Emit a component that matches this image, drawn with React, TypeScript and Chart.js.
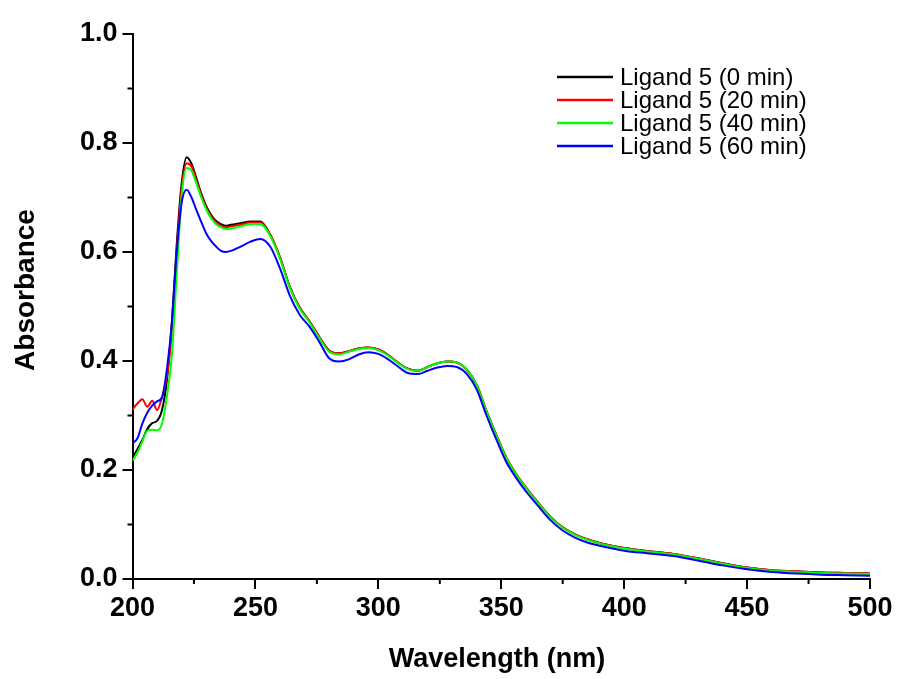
import React, { useEffect, useRef } from "react";
import { Chart, registerables } from "chart.js";

Chart.register(...registerables);

const wavelengths = [
  200, 202, 204, 206, 208, 210, 212, 214, 216, 218, 220, 222, 224, 226, 228, 230, 232, 234, 236, 238, 240,
  244, 248, 252, 256, 260, 264, 268, 272, 276, 280, 284, 288, 292, 296, 300, 304, 308, 312, 316, 320, 324,
  328, 332, 336, 340, 344, 348, 352, 356, 360,
  365, 370, 375, 380, 385, 390,
  400, 410, 420, 430, 440, 450, 460, 470, 480, 490, 500,
];

const ligand0min = [
  0.222, 0.238, 0.255, 0.275, 0.286, 0.290, 0.310, 0.365, 0.470, 0.615, 0.726, 0.774, 0.762, 0.735, 0.707, 0.684, 0.668, 0.657, 0.651, 0.648, 0.650,
  0.653, 0.656, 0.656, 0.632, 0.590, 0.536, 0.498, 0.473, 0.444, 0.419, 0.414, 0.418, 0.423, 0.425, 0.421, 0.411, 0.397, 0.386, 0.382, 0.389, 0.396,
  0.399, 0.397, 0.384, 0.356, 0.308, 0.264, 0.223, 0.193, 0.168,
  0.140, 0.114, 0.095, 0.082, 0.073, 0.066,
  0.057, 0.051, 0.046, 0.038, 0.029, 0.021, 0.016, 0.014, 0.012, 0.011, 0.010,
];

const ligand20min = [
  0.311, 0.322, 0.330, 0.316, 0.327, 0.310, 0.334, 0.372, 0.455, 0.600, 0.715, 0.763, 0.757, 0.731, 0.704, 0.681, 0.665, 0.654, 0.648, 0.645, 0.647,
  0.650, 0.654, 0.654, 0.632, 0.590, 0.536, 0.498, 0.473, 0.444, 0.419, 0.414, 0.418, 0.423, 0.425, 0.421, 0.411, 0.397, 0.386, 0.382, 0.389, 0.396,
  0.399, 0.397, 0.384, 0.356, 0.308, 0.264, 0.223, 0.193, 0.168,
  0.140, 0.114, 0.095, 0.082, 0.073, 0.066,
  0.057, 0.051, 0.046, 0.038, 0.029, 0.021, 0.016, 0.014, 0.012, 0.011, 0.010,
];

const ligand40min = [
  0.217, 0.232, 0.252, 0.272, 0.274, 0.273, 0.285, 0.335, 0.410, 0.560, 0.702, 0.754, 0.749, 0.726, 0.700, 0.678, 0.662, 0.651, 0.645, 0.642, 0.643,
  0.647, 0.651, 0.651, 0.630, 0.588, 0.534, 0.496, 0.471, 0.442, 0.417, 0.412, 0.417, 0.422, 0.424, 0.420, 0.410, 0.396, 0.385, 0.382, 0.389, 0.396,
  0.399, 0.397, 0.384, 0.355, 0.307, 0.263, 0.222, 0.192, 0.167,
  0.139, 0.113, 0.094, 0.081, 0.072, 0.065,
  0.056, 0.050, 0.045, 0.037, 0.028, 0.020, 0.015, 0.013, 0.011, 0.010, 0.009,
];

const ligand60min = [
  0.249, 0.258, 0.285, 0.305, 0.318, 0.326, 0.333, 0.385, 0.470, 0.600, 0.690, 0.714, 0.700, 0.677, 0.655, 0.634, 0.620, 0.610, 0.602, 0.600, 0.602,
  0.610, 0.619, 0.624, 0.610, 0.570, 0.520, 0.485, 0.463, 0.435, 0.405, 0.399, 0.403, 0.412, 0.416, 0.413, 0.403, 0.390, 0.378, 0.376, 0.382, 0.388,
  0.391, 0.389, 0.376, 0.348, 0.300, 0.256, 0.215, 0.186, 0.161,
  0.134, 0.108, 0.089, 0.076, 0.067, 0.061,
  0.052, 0.047, 0.042, 0.034, 0.025, 0.018, 0.013, 0.010, 0.008, 0.007, 0.006,
];

const seriesLabels = ["Ligand 5 (0 min)", "Ligand 5 (20 min)", "Ligand 5 (40 min)", "Ligand 5 (60 min)"];
const seriesValues = [ligand0min, ligand20min, ligand40min, ligand60min];
const seriesColors = ["#000000", "#ff0000", "#00ff00", "#0000ff"];

const xMajorTicks = [200, 250, 300, 350, 400, 450, 500];
const xMinorTicks = [225, 275, 325, 375, 425, 475];
const yMajorTicks = [0, 0.2, 0.4, 0.6, 0.8, 1.0];
const yMinorTicks = [0.1, 0.3, 0.5, 0.7, 0.9];

const xTitle = "Wavelength (nm)";
const yTitle = "Absorbance";

const FONT = "'Liberation Sans', Arial, Helvetica, sans-serif";

const minorTicksPlugin = {
  id: "minorTicks",
  afterDraw(chart: any) {
    const ctx = chart.ctx;
    const xs = chart.scales.x;
    const ys = chart.scales.y;
    const area = chart.chartArea;
    ctx.save();
    ctx.strokeStyle = "#000";
    ctx.lineWidth = 2;
    ctx.beginPath();
    xMinorTicks.forEach((v) => {
      const px = xs.getPixelForValue(v);
      ctx.moveTo(px, area.bottom);
      ctx.lineTo(px, area.bottom + 5);
    });
    yMinorTicks.forEach((v) => {
      const py = ys.getPixelForValue(v);
      ctx.moveTo(area.left, py);
      ctx.lineTo(area.left - 5, py);
    });
    ctx.stroke();
    ctx.restore();
  },
};

const titlesPlugin = {
  id: "axisTitles",
  afterDraw(chart: any) {
    const ctx = chart.ctx;
    ctx.save();
    ctx.fillStyle = "#000";
    ctx.font = `bold 27px ${FONT}`;
    ctx.textAlign = "center";
    ctx.textBaseline = "middle";
    ctx.fillText(xTitle, 497, 660);
    ctx.font = `bold 28px ${FONT}`;
    ctx.translate(26, 290);
    ctx.rotate(-Math.PI / 2);
    ctx.fillText(yTitle, 0, 0);
    ctx.restore();
  },
};

const legendPlugin = {
  id: "innerLegend",
  afterDraw(chart: any) {
    const ctx = chart.ctx;
    ctx.save();
    ctx.font = `24px ${FONT}`;
    ctx.textAlign = "left";
    ctx.textBaseline = "middle";
    chart.data.datasets.forEach((ds: any, i: number) => {
      const y = 77 + i * 23;
      ctx.strokeStyle = ds.borderColor;
      ctx.lineWidth = 2.5;
      ctx.beginPath();
      ctx.moveTo(557, y);
      ctx.lineTo(613, y);
      ctx.stroke();
      ctx.fillStyle = "#000";
      ctx.fillText(ds.label, 620, y + 1);
    });
    ctx.restore();
  },
};

export default function App() {
  const ref = useRef<HTMLCanvasElement>(null);

  useEffect(() => {
    const canvas = ref.current;
    if (!canvas) return;
    const datasets = seriesValues.map((vals, i) => ({
      label: seriesLabels[i],
      data: wavelengths.map((x, j) => ({ x, y: vals[j] })),
      borderColor: seriesColors[i],
      backgroundColor: seriesColors[i],
      borderWidth: 2,
      pointRadius: 0,
      fill: false,
      cubicInterpolationMode: "monotone" as const,
      order: seriesValues.length - i,
    }));

    const chart = new Chart(canvas, {
      type: "line",
      data: { datasets },
      options: {
        animation: false,
        responsive: false,
        devicePixelRatio: 1,
        layout: { padding: { left: 0, right: 29, top: 34, bottom: 0 } },
        plugins: { legend: { display: false }, tooltip: { enabled: false } },
        scales: {
          x: {
            type: "linear",
            min: 200,
            max: 500,
            afterFit: (s: any) => {
              s.height = 100;
            },
            afterBuildTicks: (s: any) => {
              s.ticks = xMajorTicks.map((v) => ({ value: v }));
            },
            ticks: {
              color: "#000",
              font: { family: FONT, size: 27, weight: "bold" },
              padding: 3,
              maxRotation: 0,
              autoSkip: false,
              callback: (v: any) => String(v),
            },
            grid: { drawOnChartArea: false, drawTicks: true, tickLength: 10, color: "#000", lineWidth: 2 },
            border: { display: true, color: "#000", width: 2 },
          },
          y: {
            type: "linear",
            min: 0,
            max: 1,
            afterFit: (s: any) => {
              s.width = 132.5;
            },
            afterBuildTicks: (s: any) => {
              s.ticks = yMajorTicks.map((v) => ({ value: v }));
            },
            ticks: {
              color: "#000",
              font: { family: FONT, size: 27, weight: "bold" },
              padding: 5,
              autoSkip: false,
              callback: (v: any) => Number(v).toFixed(1),
            },
            grid: { drawOnChartArea: false, drawTicks: true, tickLength: 10, color: "#000", lineWidth: 2 },
            border: { display: true, color: "#000", width: 2 },
          },
        },
      },
      plugins: [minorTicksPlugin, titlesPlugin, legendPlugin],
    });
    return () => chart.destroy();
  }, []);

  return (
    <div style={{ position: "absolute", left: 0, top: 0, width: 899, height: 679, background: "#fff" }}>
      <canvas ref={ref} width={899} height={679} style={{ display: "block", width: 899, height: 679 }} />
    </div>
  );
}
